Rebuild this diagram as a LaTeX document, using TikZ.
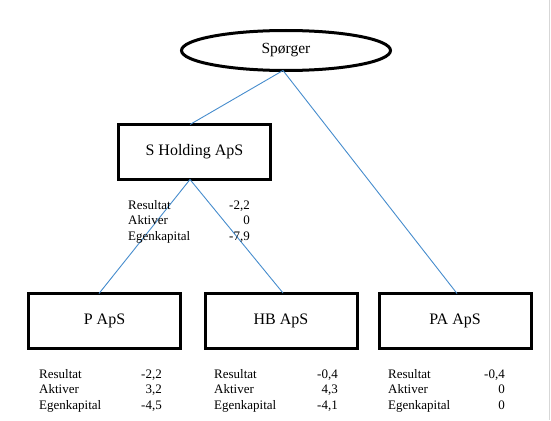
\documentclass[tikz,border=0pt]{standalone}
\usepackage{fontspec}
\setmainfont{Liberation Serif}
\usetikzlibrary{shapes.geometric}
\definecolor{linkblue}{RGB}{70,140,205}
\definecolor{edgegray}{RGB}{215,215,215}
\newcommand\fintab[7]{%
  \node[lbl] (#1l1) at (#2,#4) {Resultat};
  \node[val] (#1v1) at (#3,#4) {#5};
  \node[lbl] (#1l2) at (#2,#4+15.3) {Aktiver};
  \node[val] (#1v2) at (#3,#4+15.3) {#6};
  \node[lbl] (#1l3) at (#2,#4+30.6) {Egenkapital};
  \node[val] (#1v3) at (#3,#4+30.6) {#7};
}
\begin{document}
\begin{tikzpicture}[x=1pt,y=-1pt,
  box/.style={draw=black,line width=3pt,rectangle,minimum width=152pt,minimum height=55pt,inner sep=0pt,font=\fontsize{16}{18}\selectfont},
  oval/.style={draw=black,line width=3pt,ellipse,minimum width=209pt,minimum height=40pt,inner sep=0pt,font=\fontsize{15.5}{18}\selectfont},
  link/.style={draw=linkblue,line width=0.9pt},
  lbl/.style={anchor=base west,inner sep=0pt,font=\fontsize{13}{15}\selectfont},
  val/.style={anchor=base east,inner sep=0pt,font=\fontsize{13}{15}\selectfont}]
\useasboundingbox (0,0) rectangle (551,420);
\draw[edgegray,line width=1pt] (549.5,0) -- (549.5,420);
\node[oval] (sp) at (286,50.5) {Spørger};
\node[box] (sh) at (194.5,152) {S Holding ApS};
\node[box] (p) at (104.5,321) {P ApS};
\node[box] (hb) at (281,320.5) {HB ApS};
\node[box] (pa) at (455,321) {PA ApS};
\coordinate (apex) at ([xshift=-3pt,yshift=1.5pt]sp.south);
\draw[link] (apex) -- ([xshift=-4.5pt,yshift=-1.5pt]sh.north);
\draw[link] (apex) -- ([xshift=2pt,yshift=-1.5pt]pa.north);
\draw[link] ([xshift=-4.5pt,yshift=1.5pt]sh.south) -- ([xshift=-5.5pt,yshift=-1.5pt]p.north);
\draw[link] ([xshift=-4.5pt,yshift=1.5pt]sh.south) -- ([xshift=2pt,yshift=-1.5pt]hb.north);
\fintab{s}{128}{250}{209.5}{-2,2}{0}{-7,9}
\fintab{p}{39}{162}{378.5}{-2,2}{3,2}{-4,5}
\fintab{h}{214}{338}{378.5}{-0,4}{4,3}{-4,1}
\fintab{a}{388}{505}{378.5}{-0,4}{0}{0}
\end{tikzpicture}
\end{document}
